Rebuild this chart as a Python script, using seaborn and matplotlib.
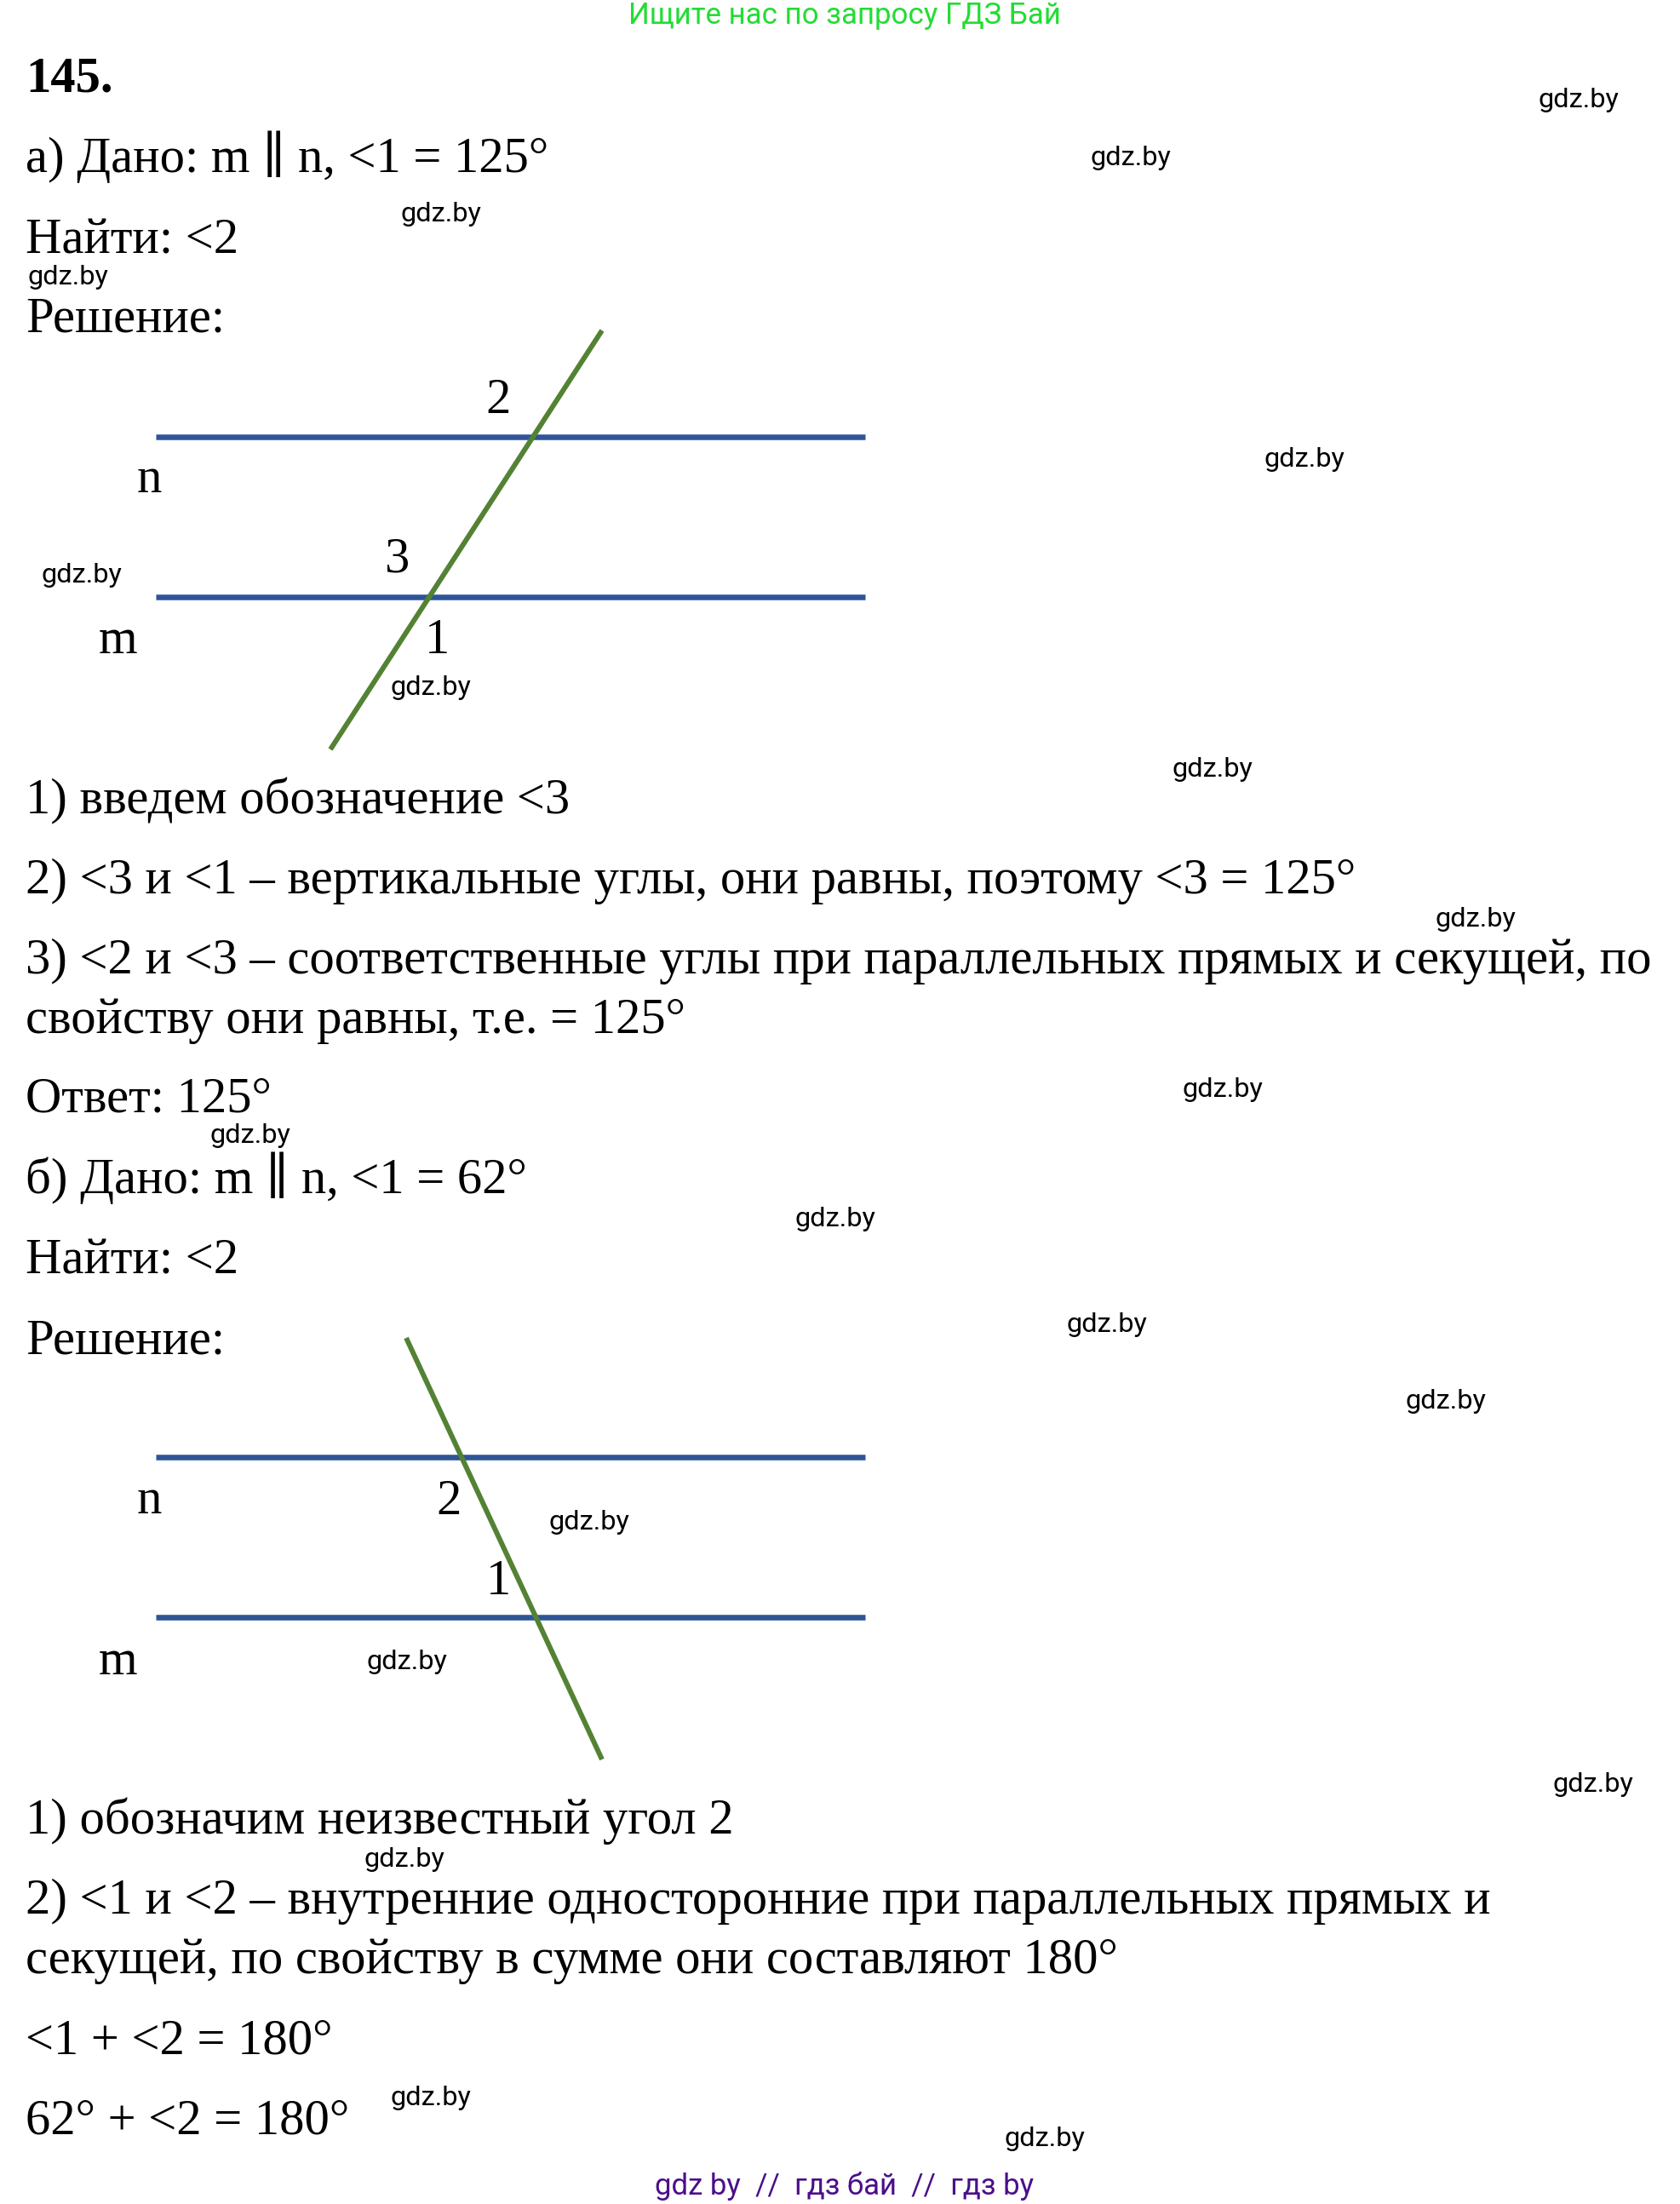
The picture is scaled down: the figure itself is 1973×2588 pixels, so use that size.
"""Worksheet page with two parallel-line diagrams."""

import matplotlib.pyplot as plt
import seaborn as sns

# diagram lines, in page pixels
line_left = 183
line_right = 1016
a_n_y = 513
a_m_y = 701
a_cut_x = [707, 388]
a_cut_y = [388, 880]
b_n_y = 1711
b_m_y = 1899
b_cut_x = [477, 707]
b_cut_y = [1571, 2066]

# body text
body_rows = [
    "а) Дано: m ∥ n, <1 = 125°",
    "Найти: <2",
    "Решение:",
    "1) введем обозначение <3",
    "2) <3 и <1 – вертикальные углы, они равны, поэтому <3 = 125°",
    "3) <2 и <3 – соответственные углы при параллельных прямых и секущей, по",
    "свойству они равны, т.е. = 125°",
    "Ответ: 125°",
    "б) Дано: m ∥ n, <1 = 62°",
    "Найти: <2",
    "Решение:",
    "1) обозначим неизвестный угол 2",
    "2) <1 и <2 – внутренние односторонние при параллельных прямых и",
    "секущей, по свойству в сумме они составляют 180°",
    "<1 + <2 = 180°",
    "62° + <2 = 180°",
]
body_base = [202, 297, 390, 955, 1049, 1143, 1213, 1305, 1401, 1495, 1589,
             2153, 2247, 2317, 2411, 2505]

# labels next to the lines
label_text = ["2", "n", "3", "m", "1", "2", "n", "1", "m"]
label_x = [585, 175, 467, 139, 513, 527, 175, 585, 139]
label_y = [485, 578, 672, 767, 767, 1778, 1777, 1872, 1966]

# watermarks
mark_x = [1854, 1328, 518, 80, 1532, 96, 506, 1424, 1733, 1436, 294, 981,
          1300, 1698, 692, 478, 1871, 475, 506, 1227]
mark_y = [117, 185, 252, 325, 539, 676, 808, 904, 1080, 1280, 1333, 1432,
          1556, 1645, 1788, 1952, 2095, 2184, 2464, 2512]

BLUE = "#2F5597"
GREEN = "#548235"
SERIF = ["Liberation Serif", "DejaVu Serif"]

sns.set_theme(style="white")
plt.rcParams["font.family"] = ["Roboto", "DejaVu Sans"]

fig = plt.figure(figsize=(19.74, 25.88), dpi=100)
ax = fig.add_axes([0, 0, 1, 1])

for y in [a_n_y, a_m_y, b_n_y, b_m_y]:
    sns.lineplot(x=[line_left, line_right], y=[y, y], ax=ax, color=BLUE,
                 linewidth=4.7, sort=False, estimator=None,
                 solid_capstyle="butt")
for xs, ys in [(a_cut_x, a_cut_y), (b_cut_x, b_cut_y)]:
    sns.lineplot(x=xs, y=ys, ax=ax, color=GREEN, linewidth=4.3, sort=False,
                 estimator=None, solid_capstyle="butt")

ax.set_xlim(0, 1974)
ax.set_ylim(2588, 0)
ax.axis("off")

ax.text(30, 108, "145.", family=SERIF, fontsize=42.25, fontweight="bold",
        color="black", va="baseline")
for row, base in zip(body_rows, body_base):
    ax.text(30, base, row, family=SERIF, fontsize=42.25, color="black",
            va="baseline")
for t, x, y in zip(label_text, label_x, label_y):
    ax.text(x, y, t, family=SERIF, fontsize=42.25, color="black", ha="center",
            va="baseline")
for x, y in zip(mark_x, mark_y):
    ax.text(x, y, "gdz.by", fontsize=23.4, color="black", ha="center",
            va="center")

ax.text(992, 28, "Ищите нас по запросу ГДЗ Бай", fontsize=25.1, color="#22DD33",
        ha="center", va="baseline")
ax.text(992, 2577, "gdz by  //  гдз бай  //  гдз by", fontsize=25,
        color="#4B0F8A", ha="center", va="baseline")

fig.savefig("out.png", dpi=100)
plt.close(fig)
